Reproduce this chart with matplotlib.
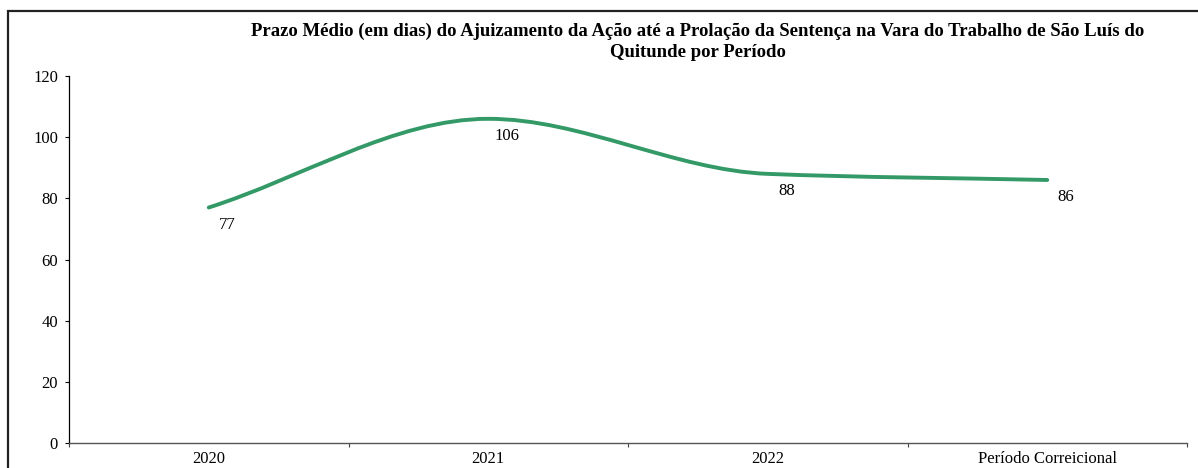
import numpy as np
import matplotlib
matplotlib.use('Agg')
import matplotlib.pyplot as plt
from matplotlib.path import Path
from matplotlib.patches import PathPatch, Rectangle

plt.rcParams['font.family'] = ['Liberation Serif', 'DejaVu Serif']

# data
periodos = ['2020', '2021', '2022', 'Período Correicional']
prazoMedio = [77, 106, 88, 86]
judul = ('Prazo Médio (em dias) do Ajuizamento da Ação até a Prolação da Sentença na Vara do Trabalho de São Luís do\n'
         'Quitunde por Período')
tickerSumbuY = np.arange(0, 121, 20)

corLinha = '#339966'

x = np.arange(len(periodos), dtype=float)
y = np.array(prazoMedio, dtype=float)

# tangents for a smooth (excel-like) line: flat at extrema, no overshoot
delta = np.diff(y) / np.diff(x)
d = np.zeros(len(y))
d[0] = delta[0]
d[-1] = delta[-1]
for i in range(1, len(y) - 1):
    if delta[i - 1] * delta[i] <= 0:
        d[i] = 0
    else:
        d[i] = 2 / (1 / delta[i - 1] + 1 / delta[i])

verts = [(x[0], y[0])]
codes = [Path.MOVETO]
for i in range(len(x) - 1):
    h = x[i + 1] - x[i]
    verts += [(x[i] + h / 3, y[i] + d[i] * h / 3),
              (x[i + 1] - h / 3, y[i + 1] - d[i + 1] * h / 3),
              (x[i + 1], y[i + 1])]
    codes += [Path.CURVE4] * 3

fig = plt.figure(figsize=(11.98, 4.68), dpi=100)
ax = fig.add_axes([69 / 1198, 25 / 468, 1118 / 1198, 367 / 468])

kurva = PathPatch(Path(verts, codes), facecolor='none', edgecolor=corLinha,
                  linewidth=2.8, capstyle='round', joinstyle='round')
ax.add_patch(kurva)

# data labels
for xi, v in zip(x, prazoMedio):
    ax.annotate('{:d}'.format(v), (xi, v), xytext=(19, -17), textcoords='offset pixels',
                ha='center', va='center', fontsize=12, color='black')

ax.set_xlim(-0.5, len(periodos) - 0.5)
ax.set_ylim(0, 120)
ax.set_yticks(tickerSumbuY)
ax.set_xticks(x)
ax.set_xticklabels(periodos)
ax.set_xticks(np.arange(-0.5, len(periodos), 1.0), minor=True)
ax.tick_params(axis='x', which='major', length=0, pad=6, labelsize=12)
ax.tick_params(axis='x', which='minor', length=3, width=0.8, direction='out', color='#444444')
ax.tick_params(axis='y', length=3, width=0.8, direction='out', pad=5, labelsize=12)

ax.spines['top'].set_visible(False)
ax.spines['right'].set_visible(False)
ax.spines['left'].set_linewidth(0.9)
ax.spines['bottom'].set_linewidth(1.0)
ax.spines['bottom'].set_color('#555555')

fig.text(698 / 1198, 1 - 42 / 468, judul, ha='center', va='center', fontsize=13.5,
         fontweight='bold', linespacing=1.3)

# outer frame of the chart area
fig.patches.append(Rectangle((8 / 1198, -0.1), 1.2, 1.1 - 11 / 468, transform=fig.transFigure,
                             fill=False, edgecolor='#222222', linewidth=1.6))

fig.savefig('out.png', dpi=100)
plt.close(fig)
